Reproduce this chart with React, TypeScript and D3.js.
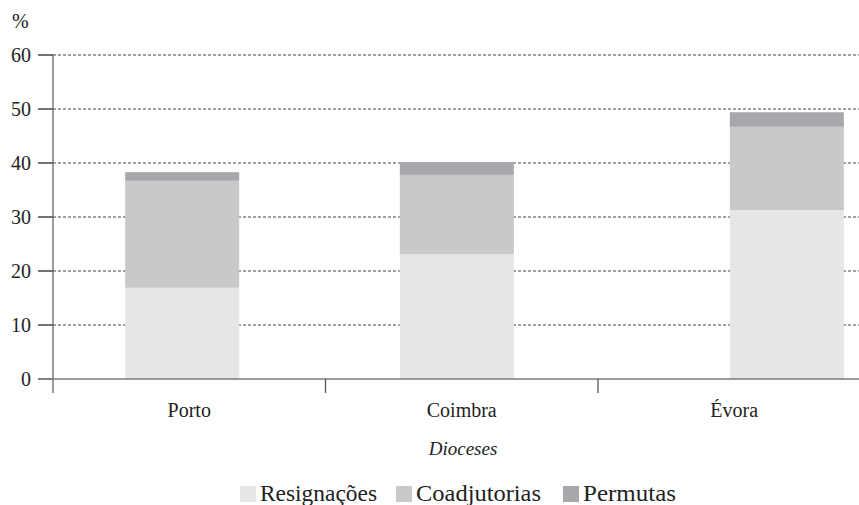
import React from "react";
import * as d3 from "d3";

const categories = ["Porto", "Coimbra", "Évora"];
const seriesNames = ["Resignações", "Coadjutorias", "Permutas"];
const resignacoes = [16.9, 23.1, 31.3];
const coadjutorias = [19.8, 14.7, 15.4];
const permutas = [1.6, 2.4, 2.7];
const yTicks = [0, 10, 20, 30, 40, 50, 60];

// layout / style
const W = 859;
const H = 505;
const COLORS = ["#e5e6e7", "#c8c9cb", "#a7a8ab"];
const BAR_NUDGE = [-0.026, -0.018, 0.193]; // in band steps, as in the original layout
const FONT = "Liberation Serif, DejaVu Serif, serif";
const AXIS = "#7a7a7a";

export default function App() {
  const x = d3.scaleBand<string>().domain(categories).range([53, 870.5]).paddingInner(0).paddingOuter(0);
  const y = d3.scaleLinear().domain([0, 60]).range([379, 55]);
  const step = x.step();
  const barW = 114;

  const rows = categories.map((c, i) => ({
    cat: c,
    [seriesNames[0]]: resignacoes[i],
    [seriesNames[1]]: coadjutorias[i],
    [seriesNames[2]]: permutas[i],
  }));
  const stacked = d3.stack<any>().keys(seriesNames)(rows);

  const barCenter = (i: number) => (x(categories[i]) as number) + step / 2 + BAR_NUDGE[i] * step;

  const legendX = [240, 396, 563];
  const legendTextW = [117, 125, 93];
  const ts: React.CSSProperties = { fontFamily: FONT };

  return (
    <div style={{ position: "absolute", left: 0, top: 0 }}>
      <svg width={W} height={H} style={{ display: "block", background: "#fff" }}>
        {/* gridlines */}
        {yTicks.filter((t) => t > 0).map((t) => (
          <line key={"g" + t} x1={53} x2={W} y1={y(t)} y2={y(t)} stroke="#444" strokeWidth={1} strokeDasharray="3,2" />
        ))}
        {/* bars */}
        {stacked.map((s, si) =>
          s.map((d, i) => (
            <rect
              key={si + "-" + i}
              x={barCenter(i) - barW / 2}
              y={y(d[1])}
              width={barW}
              height={y(d[0]) - y(d[1])}
              fill={COLORS[si]}
            />
          ))
        )}
        {/* y axis */}
        <line x1={53} x2={53} y1={y(60)} y2={393} stroke={AXIS} strokeWidth={1.5} />
        {yTicks.map((t) => (
          <g key={"t" + t}>
            <line x1={38} x2={53} y1={y(t)} y2={y(t)} stroke={t === 0 ? AXIS : "#444"} strokeWidth={1.5} />
            <text x={31} y={y(t) + 7} textAnchor="end" fontSize={20} fill="#222" style={ts}>
              {t}
            </text>
          </g>
        ))}
        <text x={12} y={28} fontSize={20} fill="#222" style={ts}>%</text>
        {/* x axis */}
        <line x1={38} x2={W} y1={y(0)} y2={y(0)} stroke={AXIS} strokeWidth={1.5} />
        {categories.map((c, i) => (
          <g key={c}>
            {i > 0 && (
              <line x1={x(c) as number} x2={x(c) as number} y1={y(0)} y2={393} stroke="#555" strokeWidth={1.3} />
            )}
            <text x={(x(c) as number) + step / 2} y={417} textAnchor="middle" fontSize={20} fill="#222" style={ts}>
              {c}
            </text>
          </g>
        ))}
        <text x={463} y={455} textAnchor="middle" fontSize={19} fontStyle="italic" fill="#222" style={ts}>
          Dioceses
        </text>
        {/* legend */}
        {seriesNames.map((n, i) => (
          <g key={n}>
            <rect x={legendX[i]} y={486} width={16} height={16} fill={COLORS[i]} />
            <text x={legendX[i] + 20} y={501} fontSize={23} fill="#222" style={ts} textLength={legendTextW[i]} lengthAdjust="spacingAndGlyphs">
              {n}
            </text>
          </g>
        ))}
      </svg>
    </div>
  );
}
